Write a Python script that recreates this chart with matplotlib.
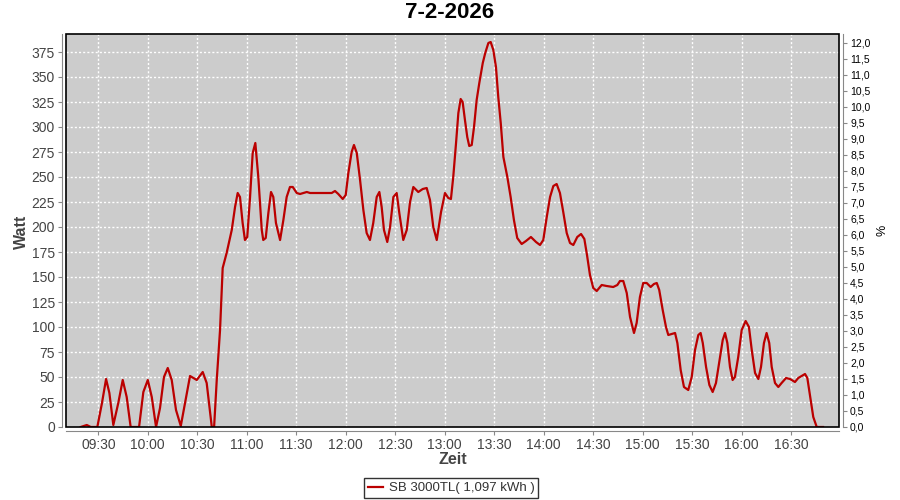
import matplotlib
matplotlib.use("Agg")
import matplotlib.pyplot as plt
from matplotlib.patches import Rectangle

# values (time in minutes after 09:00, power in W)
t_min = [19.3, 23.0, 25.4, 29.4, 32.1, 34.7, 36.7, 39.1, 42.1, 44.8, 47.2, 49.6,
         54.7, 57.3, 60.0, 62.4, 65.0, 67.4, 69.8, 72.1, 74.5, 77.1, 80.0, 82.6,
         85.6, 89.7, 93.3, 95.7, 98.8, 100.2, 101.8, 103.8, 105.4, 107.8, 110.9,
         112.9, 114.5, 115.9, 117.5, 118.9, 120.3, 122.0, 123.6, 125.2, 127.0,
         129.1, 130.0, 131.5, 133.1, 134.7, 136.1, 137.7, 140.2, 142.2, 144.2,
         146.2, 147.9, 150.3, 152.3, 156.4, 158.4, 171.5, 173.5, 175.5, 178.2,
         180.0, 181.6, 183.6, 185.0, 186.7, 188.7, 190.7, 192.7, 194.7, 196.7,
         198.8, 200.4, 201.8, 203.2, 205.2, 206.9, 208.9, 210.9, 212.5, 214.9,
         217.0, 219.0, 221.0, 224.0, 226.7, 229.1, 231.1, 233.1, 235.2, 237.8,
         240.2, 242.2, 243.8, 245.2, 246.9, 248.3, 249.7, 250.9, 252.3, 253.7,
         254.9, 256.4, 257.8, 259.4, 261.0, 263.1, 264.6, 266.5, 267.9, 269.5,
         271.1, 272.5, 274.0, 275.6, 278.0, 280.0, 282.0, 284.0, 286.7, 289.3,
         292.3, 295.4, 297.8, 299.8, 301.9, 303.9, 305.9, 307.9, 309.9, 311.9,
         314.0, 316.0, 318.0, 320.4, 322.7, 324.7, 326.3, 328.1, 330.1, 332.2,
         335.2, 338.2, 342.2, 344.7, 346.3, 348.3, 350.4, 352.4, 354.8, 356.4,
         358.4, 360.4, 362.5, 364.9, 366.9, 368.6, 370.1, 372.2, 374.2, 375.6,
         377.7, 379.7, 381.1, 383.1, 385.1, 387.7, 389.8, 391.8, 393.8, 395.2,
         396.5, 398.5, 400.5, 402.5, 404.5, 406.5, 408.6, 410.0, 411.4, 413.0,
         414.6, 416.0, 418.0, 420.1, 422.5, 424.5, 426.2, 428.2, 430.2, 431.8,
         433.6, 435.2, 436.8, 438.3, 440.3, 442.3, 444.3, 447.0, 449.4, 452.4,
         454.4, 458.5, 459.9, 461.9, 463.5, 465.6, 469.4]
watt = [0, 2, 0, 0, 23, 48, 34, 2, 24, 47, 30, 0,
        0, 35, 47, 30, 0, 19, 50, 59, 47, 17, 1, 24,
        51, 47, 55, 44, 0, 0, 47, 97, 159, 174, 197,
        220, 234, 230, 204, 187, 190, 230, 274, 284, 250,
        197, 187, 189, 214, 235, 230, 204, 187, 207, 230,
        240, 240, 234, 233, 235, 234, 234, 236, 233, 228,
        232, 254, 275, 282, 274, 247, 217, 194, 187, 204,
        230, 235, 220, 197, 185, 200, 230, 234, 214, 187,
        197, 225, 240, 235, 238, 239, 227, 200, 187, 215,
        234, 229, 228, 250, 284, 314, 328, 325, 307, 290,
        281, 282, 300, 327, 344, 364, 374, 384, 385, 377,
        360, 330, 304, 270, 250, 230, 207, 189, 183, 186,
        190, 185, 182, 187, 210, 230, 241, 243, 234, 215,
        194, 184, 182, 190, 193, 188, 172, 152, 139, 136,
        142, 141, 140, 142, 146, 146, 134, 110, 94, 104,
        130, 144, 144, 140, 143, 144, 137, 117, 100, 92,
        93, 94, 84, 57, 40, 37, 50, 77, 92, 94,
        84, 60, 42, 35, 44, 65, 87, 94, 84, 60,
        47, 50, 70, 97, 106, 100, 77, 54, 48, 60,
        84, 94, 84, 60, 44, 40, 44, 49, 48, 45,
        49, 53, 49, 27, 10, 0, 0]

x_ticklabels = ["09:30", "10:00", "10:30", "11:00", "11:30", "12:00", "12:30",
                "13:00", "13:30", "14:00", "14:30", "15:00", "15:30", "16:00", "16:30"]
watt_ticks = list(range(0, 376, 25))
pct_ticks = [i * 0.5 for i in range(25)]

title = "7-2-2026"
legend_label = "SB 3000TL( 1,097 kWh )"

x_ticks = [(int(s[:2]) - 9) * 60 + int(s[3:]) for s in x_ticklabels]

plt.rcParams['font.family'] = ['Liberation Sans', 'DejaVu Sans']

fig = plt.figure(figsize=(9, 5), dpi=100)
ax = fig.add_axes([66 / 900, 1 - 427 / 500, (839 - 66) / 900, (427 - 34) / 500])
ax.set_facecolor('#cccccc')

line, = ax.plot(t_min, watt, color='#bb0000', lw=1.6, zorder=3)

ax.set_xlim(10.4, 479.1)
ax.set_ylim(0, 393)
ax.set_xticks(x_ticks)
ax.set_xticklabels(x_ticklabels)
ax.set_yticks(watt_ticks)
ax.grid(True, color='white', linestyle=(0, (1.5, 1.5)), linewidth=1)
ax.set_axisbelow(True)

for s in ['top', 'right']:
    ax.spines[s].set_visible(False)
for s in ['left', 'bottom']:
    ax.spines[s].set_position(('outward', 3))
    ax.spines[s].set_color('#888888')
ax.tick_params(axis='both', colors='#888888', length=3, labelsize=10,
               labelcolor='#444444', pad=2)

# black frame around the plot area
ax.add_patch(Rectangle((0, 0), 1, 1, transform=ax.transAxes, fill=False,
                       edgecolor='black', lw=1.2, clip_on=False, zorder=4))

ax2 = ax.twinx()
ax2.set_ylim(0, 393 / 32.03)
ax2.set_yticks(pct_ticks)
ax2.set_yticklabels([f"{v:.1f}".replace('.', ',') for v in pct_ticks])
for s in ['top', 'left', 'bottom']:
    ax2.spines[s].set_visible(False)
ax2.spines['right'].set_position(('outward', 3))
ax2.spines['right'].set_color('#888888')
ax2.tick_params(axis='y', colors='#888888', length=3, labelsize=7.5,
                labelcolor='black', pad=2)

fig.text(0.5, 1 - 13 / 500, title, ha='center', va='center', fontsize=16,
         fontweight='bold', family=['Liberation Sans Narrow', 'Liberation Sans', 'DejaVu Sans'])
fig.text(21 / 900, 1 - 232 / 500, "Watt", rotation=90, ha='center', va='center',
         fontsize=11.5, fontweight='bold', color='#444444')
fig.text(453 / 900, 1 - 460 / 500, "Zeit", ha='center', va='center',
         fontsize=11.5, fontweight='bold', color='#444444')
fig.text(882 / 900, 1 - 230 / 500, "%", rotation=90, ha='center', va='center',
         fontsize=9, color='black')

leg = fig.legend([line], [legend_label], loc='center',
                 bbox_to_anchor=(451 / 900, 1 - 488 / 500), fontsize=9.5,
                 frameon=True, fancybox=False, handlelength=1.2,
                 handletextpad=0.4, borderpad=0.3, borderaxespad=0)
leg.get_frame().set_edgecolor('black')
leg.get_frame().set_linewidth(1)
for txt in leg.get_texts():
    txt.set_color('#333333')

fig.savefig('out.png', dpi=100)
